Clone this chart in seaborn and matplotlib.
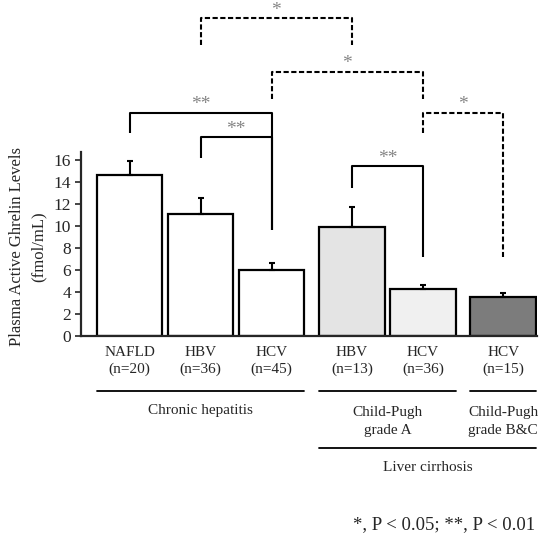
import numpy as np
import seaborn as sns
import matplotlib.pyplot as plt

# data
labels = ['NAFLD\n(n=20)', 'HBV\n(n=36)', 'HCV\n(n=45)', 'HBV\n(n=13)', 'HCV\n(n=36)', 'HCV\n(n=15)']
group_of_bar = [0, 0, 0, 1, 1, 2]
means = [14.6, 11.1, 6.0, 9.85, 4.3, 3.57]
sems = [1.3, 1.4, 0.65, 1.85, 0.34, 0.31]
fills = ['white', 'white', 'white', '#e4e4e4', '#f0f0f0', '#7c7c7c']

groups = [('Chronic hepatitis', 0, 2), ('Child-Pugh\ngrade A', 3, 4), ('Child-Pugh\ngrade B&C', 5, 5)]
super_group = ('Liver cirrhosis', 3, 5)

# (left bar, right bar, bracket height, left foot, right foot, dashed, label)
brackets = [
    (1, 3, 28.83, 26.4, 26.4, True, '*'),
    (2, 4, 24.0, 21.5, 21.5, True, '*'),
    (0, 2, 20.26, 18.4, 9.6, False, '**'),
    (1, 2, 18.06, 16.15, 9.6, False, '**'),
    (4, 5, 20.26, 18.4, 7.2, True, '*'),
    (3, 4, 15.4, 13.4, 7.2, False, '**'),
]

sns.set_style('ticks')
plt.rcParams['font.family'] = ['Liberation Serif', 'DejaVu Serif']

group_gap = 0.13
pos = np.arange(len(means)) + group_gap * np.array(group_of_bar)
bar_w = 0.92

fig = plt.figure(figsize=(5.53, 5.48), dpi=100)
ax = fig.add_axes([81 / 553, 1 - 336 / 548, (537 - 81) / 553, (336 - 152) / 548])

sns.barplot(x=pos, y=means, native_scale=True, width=bar_w, color='white',
            edgecolor='black', linewidth=1.6, errorbar=None, ax=ax)
for p, fc in zip(ax.patches, fills):
    p.set_facecolor(fc)
ax.errorbar(pos, means, yerr=[np.zeros(len(sems)), sems], fmt='none', ecolor='black',
            elinewidth=1.5, capsize=2.2, capthick=1.5, zorder=1)

ax.set_xlim(-0.686, 5.737)
ax.set_ylim(0, 16.7)
ax.set_yticks(range(0, 17, 2))
ax.tick_params(axis='y', labelsize=12.5, width=1.2, length=4, pad=3)
ax.set_xticks(pos)
ax.set_xticklabels(labels, fontsize=11)
ax.tick_params(axis='x', length=0, pad=7)
for t in ax.get_xticklabels():
    t.set_linespacing(1.4)
sns.despine(ax=ax)
ax.spines['left'].set_linewidth(1.6)
ax.spines['bottom'].set_linewidth(1.6)

fig.text(28 / 553, 1 - 247 / 548, 'Plasma Active Ghrelin Levels\n(fmol/mL)', rotation=90,
         ha='center', va='center', fontsize=12, linespacing=1.45)

# significance brackets
for i, j, y, yl, yr, dashed, lab in brackets:
    ls = (0, (2.5, 1.2)) if dashed else '-'
    ax.plot([pos[i], pos[i], pos[j], pos[j]], [yl, y, y, yr], color='black', lw=1.5,
            ls=ls, clip_on=False, solid_capstyle='butt')
    ax.text((pos[i] + pos[j]) / 2, y - 0.05, lab, ha='center', va='bottom', fontsize=14,
            color='#858585')

# group lines under the axis
half = bar_w / 2
for name, a, b in groups:
    ax.plot([pos[a] - half, pos[b] + half], [-4.99, -4.99], color='black', lw=1.3, clip_on=False)
    ax.text((pos[a] + pos[b]) / 2, -7.75 if '\n' in name else -6.8, name, ha='center', va='center',
            fontsize=11, linespacing=1.45)
name, a, b = super_group
ax.plot([pos[a] - half, pos[b] + half], [-10.16, -10.16], color='black', lw=1.3, clip_on=False)
ax.text((pos[a] + pos[b]) / 2, -11.9, name, ha='center', va='center', fontsize=11)

fig.text(535 / 553, 1 - 525 / 548, '*, P < 0.05; **, P < 0.01', ha='right', va='center', fontsize=13.5)

fig.savefig('out.png', dpi=100)
